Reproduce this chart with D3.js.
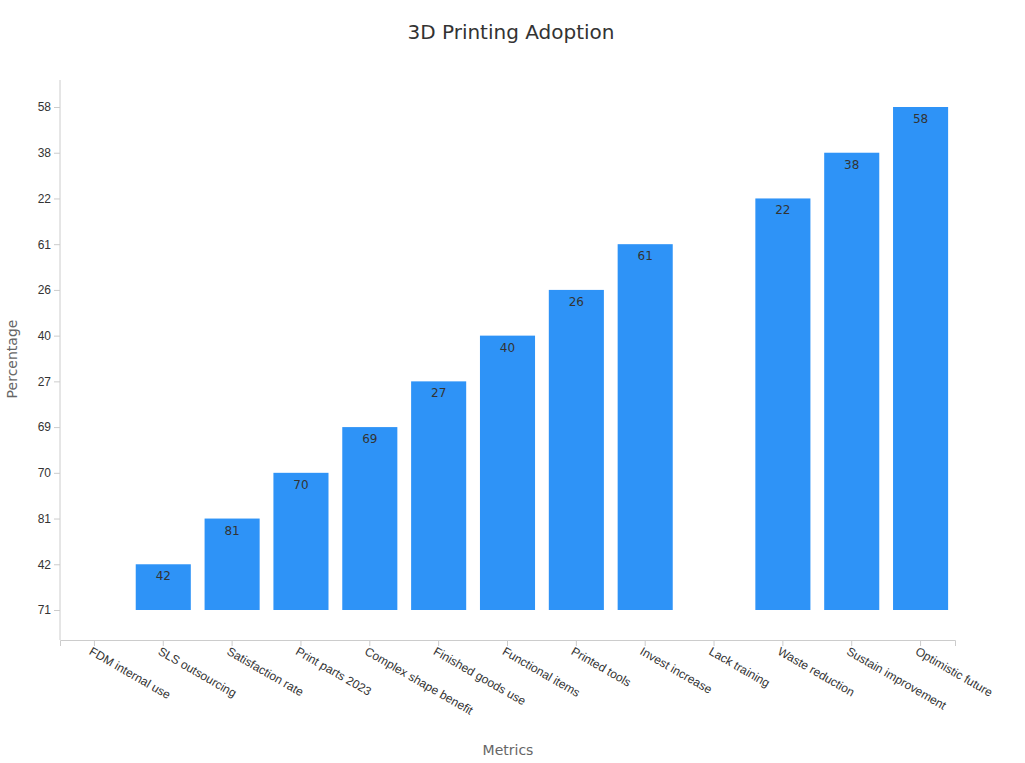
<!DOCTYPE html>
<html><head><meta charset="utf-8">
<script src="https://cdn.jsdelivr.net/npm/d3@7"></script>
<style>body{margin:0;background:#fff;font-family:"DejaVu Sans",sans-serif}</style>
</head><body><svg id="c" width="1025" height="763"></svg>
<script>
const categories = ["FDM internal use","SLS outsourcing","Satisfaction rate","Print parts 2023","Complex shape benefit","Finished goods use","Functional items","Printed tools","Invest increase","Lack training","Waste reduction","Sustain improvement","Optimistic future"];
const values = [71,42,81,70,69,27,40,26,61,71,22,38,58];
const yTicks = ["71","42","81","70","69","27","40","26","61","22","38","58"];

const svg = d3.select("#c");
const L=60,R=955,T=80,B=640;
const x = d3.scaleBand().domain(categories).range([L,R]).paddingInner(0.2).paddingOuter(0.1);
const y = d3.scalePoint().domain(yTicks).range([610,107]);

svg.append("text").attr("x",511).attr("y",39).attr("text-anchor","middle").attr("font-size",20).attr("fill","#333").text("3D Printing Adoption");

const xa = svg.append("g").attr("transform",`translate(0,${B})`).call(d3.axisBottom(x).tickSize(6));
xa.select(".domain").attr("stroke","#ccc");
xa.selectAll(".tick line").attr("stroke","#ccc");
xa.selectAll(".tick text").attr("font-size",12).attr("fill","#333").attr("text-anchor","start")
  .attr("transform","translate(-4,10) rotate(30)").attr("dy","0.35em").attr("y",0);

const ya = svg.append("g").attr("transform",`translate(${L},0)`).call(d3.axisLeft(y).tickSize(6));
ya.select(".domain").attr("d",`M0,${T}V${B}`).attr("stroke","#ccc");
ya.selectAll(".tick line").attr("stroke","#ccc");
ya.selectAll(".tick text").attr("font-size",12).attr("fill","#333");

const base = y(yTicks[0]);
const g = svg.append("g");
categories.forEach((c,i)=>{
  const yy = y(String(values[i]));
  g.append("rect").attr("x",x(c)).attr("width",x.bandwidth()).attr("y",yy).attr("height",base-yy).attr("fill","#2e93f7");
  if(base-yy>0) g.append("text").attr("x",x(c)+x.bandwidth()/2).attr("y",yy+16).attr("text-anchor","middle").attr("font-size",12).attr("fill","#333").text(values[i]);
});

svg.append("text").attr("x",508).attr("y",755).attr("text-anchor","middle").attr("font-size",14).attr("fill","#666").text("Metrics");
svg.append("text").attr("transform","translate(17,359) rotate(-90)").attr("text-anchor","middle").attr("font-size",14).attr("fill","#666").text("Percentage");
</script></body></html>
